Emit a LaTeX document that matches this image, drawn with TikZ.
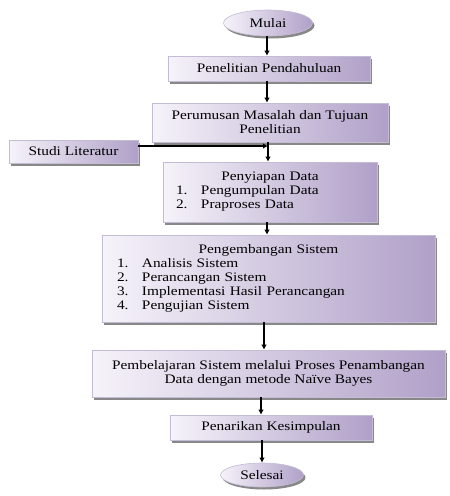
\documentclass[tikz,border=0pt]{standalone}
\usepackage{fontspec}
\setmainfont{Liberation Serif}[FakeStretch=1.18]
\usepackage{xcolor}
\usetikzlibrary{arrows.meta,shapes.geometric,shadows}

\definecolor{boxlight}{RGB}{246,243,250}
\definecolor{boxdark}{RGB}{176,160,200}
\definecolor{boxline}{RGB}{196,188,212}

\newcommand{\numitem}[2]{\makebox[25pt][l]{#1.}#2}
\newcommand{\boxtitle}[2]{\makebox[#1][c]{#2}}

\tikzset{
  flowbox/.style={rectangle, draw=boxline, line width=0.6pt,
    left color=boxlight, right color=boxdark,
    drop shadow={shadow xshift=2pt, shadow yshift=-2.5pt, fill=black!55, opacity=0.85},
    font=\fontsize{13}{14}\selectfont, inner sep=0pt, align=center},
  flowend/.style={flowbox, ellipse},
  flowarrow/.style={black, line width=1.5pt, -{Latex[length=5pt,width=5.5pt]}}
}

\begin{document}
\begin{tikzpicture}[x=1pt,y=-1pt]
        \useasboundingbox (0,0) rectangle (450,496);

        \node [flowend, minimum width=89, minimum height=26] (mulai) at (268,23) {Mulai};
        \node [flowbox, minimum width=202, minimum height=25] (pendahuluan) at (269,68.5) {Penelitian Pendahuluan};
        \node [flowbox, minimum width=236, minimum height=39] (perumusan) at (270,122.5) {Perumusan Masalah dan Tujuan\\Penelitian};
        \node [flowbox, minimum width=129, minimum height=23] (studi) at (73.5,151.5) {Studi Literatur};
        \node [flowbox, minimum height=60, inner xsep=13pt, text width=188pt, align=left] (penyiapan) at (270,192)
            {\boxtitle{188pt}{Penyiapan Data}\\\numitem{1}{Pengumpulan Data}\\\numitem{2}{Praproses Data}};
        \node [flowbox, minimum height=87, inner xsep=15pt, text width=303pt, align=left] (pengembangan) at (268.5,278.5)
            {\boxtitle{303pt}{Pengembangan Sistem}\\\numitem{1}{Analisis Sistem}\\\numitem{2}{Perancangan Sistem}\\
             \numitem{3}{Implementasi Hasil Perancangan}\\\numitem{4}{Pengujian Sistem}};
        \node [flowbox, minimum width=353, minimum height=47] (pembelajaran) at (268.5,373.5)
            {Pembelajaran Sistem melalui Proses Penambangan\\Data dengan metode Naïve Bayes};
        \node [flowbox, minimum width=202, minimum height=25] (penarikan) at (271,427.5) {Penarikan Kesimpulan};
        \node [flowend, minimum width=83, minimum height=24] (selesai) at (262,475) {Selesai};

        \coordinate (gabung) at (268,146);

        \draw [flowarrow] (mulai.south -| 267,0) to (pendahuluan.north -| 267,0);
        \draw [flowarrow] (pendahuluan.south -| 267,0) to (perumusan.north -| 267,0);
        \draw [flowarrow] (perumusan.south -| gabung) to (penyiapan.north -| gabung);
        \draw [flowarrow] (studi.east |- gabung) to (gabung);
        \draw [flowarrow] (penyiapan.south -| 267,0) to (pengembangan.north -| 267,0);
        \draw [flowarrow] (pengembangan.south -| 264,0) to (pembelajaran.north -| 264,0);
        \draw [flowarrow] (pembelajaran.south -| 261,0) to (penarikan.north -| 261,0);
        \draw [flowarrow] (penarikan.south -| 262,0) to (selesai.north -| 262,0);
\end{tikzpicture}
\end{document}
